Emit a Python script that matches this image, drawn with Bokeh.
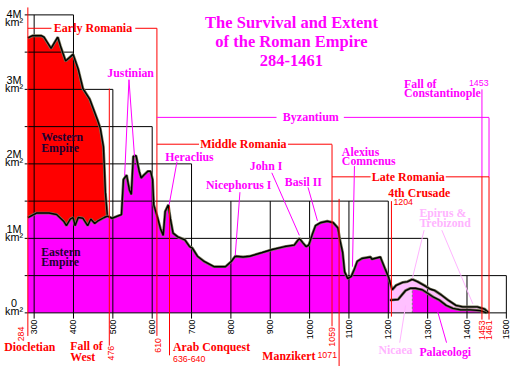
import math
from bokeh.plotting import figure
from bokeh.models import Range1d
from bokeh.core.properties import value
from bokeh.embed import file_html
from bokeh.resources import INLINE

# ---------------- data (years, million km²) ----------------
total_years = [284, 296, 318, 325, 343, 360, 367, 380, 399, 412, 424, 441, 461, 468, 476, 478, 481, 486]
total_vals = [3.69, 3.72, 3.72, 3.70, 3.55, 3.70, 3.58, 3.38, 3.47, 3.27, 3.01, 2.87, 2.59, 2.48, 2.23, 2.01, 1.62, 1.30]

east_years = [284, 306, 338, 357, 375, 382, 392, 399, 404, 412, 424, 436, 444, 454, 461, 478, 486, 498, 522,
              527, 535, 542, 547, 552, 559, 567, 572, 579, 589, 596, 601, 604, 614, 621, 628, 633, 641, 646,
              653, 665, 683, 695, 702, 715, 732, 757, 786, 801, 811, 831, 848, 880, 905, 937, 961, 974, 983,
              991, 998, 1008, 1015, 1028, 1045, 1060, 1072, 1077, 1084, 1089, 1097, 1106, 1114, 1121, 1133,
              1155, 1158, 1180, 1182, 1192, 1200, 1204]
east_vals = [1.28, 1.34, 1.34, 1.32, 1.23, 1.17, 1.26, 1.28, 1.17, 1.28, 1.27, 1.17, 1.26, 1.20, 1.23, 1.28, 1.30,
             1.27, 1.32, 1.79, 1.85, 1.65, 1.59, 2.10, 2.11, 1.90, 1.81, 1.85, 1.90, 1.90, 1.79, 1.45, 1.27,
             1.13, 1.04, 1.36, 1.45, 1.27, 1.07, 1.02, 0.98, 0.89, 0.87, 0.76, 0.69, 0.62, 0.62, 0.69, 0.76,
             0.75, 0.76, 0.81, 0.85, 0.89, 0.91, 1.00, 0.94, 0.89, 0.91, 1.07, 1.17, 1.21, 1.23, 1.21, 1.14,
             0.98, 0.81, 0.55, 0.46, 0.49, 0.59, 0.69, 0.73, 0.75, 0.72, 0.75, 0.72, 0.59, 0.49, 0.42]

outer_years = [1204, 1210, 1220, 1237, 1249, 1261, 1274, 1291, 1306, 1318, 1335, 1352, 1372, 1389, 1408, 1426, 1445, 1455]
outer_vals = [0.42, 0.31, 0.37, 0.41, 0.42, 0.45, 0.42, 0.37, 0.32, 0.30, 0.24, 0.17, 0.10, 0.08, 0.08, 0.08, 0.05, 0.0]

inner_years = [1204, 1225, 1244, 1256, 1261, 1269, 1286, 1298, 1315, 1330, 1347, 1364, 1384, 1408, 1433, 1450]
inner_vals = [0.17, 0.18, 0.30, 0.33, 0.33, 0.33, 0.31, 0.27, 0.21, 0.17, 0.10, 0.06, 0.04, 0.04, 0.03, 0.0]
palaeologi_start = 1261

# staircase grid
grid_levels = [0, 0.5, 1.0, 1.5, 2.0, 2.5, 3.0, 3.5, 4.0]
grid_ends = [1500, 1500, 1300, 1200, 700, 600, 500, 400, 400]
grid_start = 276
tick_years = [300, 400, 500, 600, 700, 800, 900, 1000, 1100, 1200, 1300, 1400, 1500]
tick_tops = [4.0, 4.0, 3.0, 2.5, 2.0, 1.5, 1.5, 1.5, 1.5, 1.5, 1.0, 0.5, 0.5]
tick_labels = [str(t) for t in tick_years]

ylab_values = [0, 1, 2, 3, 4]
ylab_texts = ["0", "1M", "2M", "3M", "4M"]
ylab_shift = [0, 0, 0, 0, -0.12]

# event lines: drawn position (year), top, bottom
red_x = [284, 491, 612, 644, 1057, 1075, 1208, 1438, 1456]
red_top = [4.10, 3.01, 3.82, 1.43, 2.26, 1.53, 1.50, 1.83, 1.83]
red_bot = [-0.31, -0.44, -0.31, -0.57, -0.18, -0.72, -0.05, -0.09, -0.09]
mag_x = [1438, 1456]
mag_top = [3.0, 2.62]
mag_bot = [1.83, 1.83]

# era brackets: level, segments
red_br_x0 = [284, 557, 612, 945, 1057, 1346]
red_br_x1 = [344, 612, 719, 1057, 1155, 1456]
red_br_y = [3.82, 3.82, 2.264, 2.264, 1.826, 1.826]
mag_br_x0 = [612, 1087]
mag_br_x1 = [916, 1456]
mag_br_y = [2.624, 2.624]

# pointers
mp_x0 = [541, 541, 663, 823, 904, 996, 1114, 1348]
mp_y0 = [3.13, 3.13, 2.03, 1.62, 1.88, 1.685, 1.97, -0.40]
mp_x1 = [530, 555, 643, 811, 974, 1020, 1109, 1321]
mp_y1 = [1.84, 2.10, 1.45, 0.77, 1.04, 1.235, 0.62, 0.10]
pp_x0 = [1291, 1336, 1229]
pp_y0 = [1.11, 1.11, -0.40]
pp_x1 = [1261, 1415, 1244]
pp_y1 = [0.46, 0.12, 0.10]

RED = "#FF0000"
MAG = "#FF00FF"
PINK = "#FFC0FF"
LPINK = "#FFB4FF"
DARK = "#200030"

SERIF = "Liberation Serif"
SANS = "Liberation Sans"

# labels: text, x(year), y(value), color, size, font, bold, align, angle
labels = [
    ("The Survival and Extent", 954, 3.897, MAG, 16.5, SERIF, True, "center", 0),
    ("of the Roman Empire", 954, 3.640, MAG, 16.5, SERIF, True, "center", 0),
    ("284-1461", 954, 3.383, MAG, 16.5, SERIF, True, "center", 0),
    ("Early Romania", 350, 3.820, RED, 12, SERIF, True, "left", 0),
    ("Byzantium", 932, 2.624, MAG, 12, SERIF, True, "left", 0),
    ("Middle Romania", 722, 2.264, RED, 12, SERIF, True, "left", 0),
    ("Late Romania", 1158, 1.826, RED, 12, SERIF, True, "left", 0),
    ("Justinian", 486, 3.215, MAG, 11.8, SERIF, True, "left", 0),
    ("Heraclius", 633, 2.096, MAG, 11.8, SERIF, True, "left", 0),
    ("Nicephorus I", 737, 1.711, MAG, 11.8, SERIF, True, "left", 0),
    ("John I", 848, 1.968, MAG, 11.8, SERIF, True, "left", 0),
    ("Basil II", 937, 1.762, MAG, 11.8, SERIF, True, "left", 0),
    ("Alexius", 1082, 2.161, MAG, 11.8, SERIF, True, "left", 0),
    ("Comnenus", 1082, 2.045, MAG, 11.8, SERIF, True, "left", 0),
    ("Fall of", 1240, 3.074, MAG, 11.8, SERIF, True, "left", 0),
    ("Constantinople", 1240, 2.945, MAG, 11.8, SERIF, True, "left", 0),
    ("1453", 1405, 3.087, MAG, 8.8, SANS, False, "left", 0),
    ("4th Crusade", 1200, 1.608, RED, 11.8, SERIF, True, "left", 0),
    ("1204", 1213, 1.492, RED, 8.8, SANS, False, "left", 0),
    ("Epirus &", 1279, 1.338, LPINK, 11.8, SERIF, True, "left", 0),
    ("Trebizond", 1279, 1.209, LPINK, 11.8, SERIF, True, "left", 0),
    ("Western", 318, 2.354, DARK, 11.8, SERIF, True, "left", 0),
    ("Empire", 318, 2.212, DARK, 11.8, SERIF, True, "left", 0),
    ("Eastern", 318, 0.823, DARK, 11.8, SERIF, True, "left", 0),
    ("Empire", 318, 0.682, DARK, 11.8, SERIF, True, "left", 0),
    ("Diocletian", 224, -0.463, RED, 11.8, SERIF, True, "left", 0),
    ("Fall of", 392, -0.450, RED, 11.8, SERIF, True, "left", 0),
    ("West", 392, -0.592, RED, 11.8, SERIF, True, "left", 0),
    ("Arab Conquest", 653, -0.463, RED, 11.8, SERIF, True, "left", 0),
    ("636-640", 653, -0.617, RED, 8.8, SANS, False, "left", 0),
    ("Manzikert", 880, -0.579, RED, 11.8, SERIF, True, "left", 0),
    ("1071", 1020, -0.566, RED, 8.8, SANS, False, "left", 0),
    ("Nicaea", 1175, -0.502, LPINK, 11.8, SERIF, True, "left", 0),
    ("Palaeologi", 1279, -0.527, MAG, 11.8, SERIF, True, "left", 0),
    ("284", 267, -0.283, RED, 8.8, SANS, False, "center", math.pi / 2),
    ("476", 495, -0.540, RED, 8.8, SANS, False, "center", math.pi / 2),
    ("610", 615, -0.437, RED, 8.8, SANS, False, "center", math.pi / 2),
    ("1059", 1056, -0.322, RED, 8.8, SANS, False, "center", math.pi / 2),
    ("1453", 1438, -0.232, RED, 8.8, SANS, False, "center", math.pi / 2),
    ("1461", 1455, -0.232, RED, 8.8, SANS, False, "center", math.pi / 2),
]

# ---------------- figure ----------------
p = figure(width=511, height=366, x_range=Range1d(214.5, 1513.1), y_range=Range1d(-0.720, 4.193),
           x_axis_type=None, y_axis_type=None, toolbar_location=None, output_backend="svg",
           min_border=0)
p.outline_line_color = None
p.background_fill_color = "white"
p.border_fill_color = "white"

# fills
p.patch([east_years[0]] + east_years + [east_years[-1]], [0] + east_vals + [0],
        fill_color=MAG, line_color=None)
west_x = total_years + [y for y in reversed(east_years) if y <= total_years[-1]]
west_y = total_vals + [v for y, v in zip(reversed(east_years), reversed(east_vals)) if y <= total_years[-1]]
p.patch(west_x, west_y, fill_color=RED, line_color=None)
p.patch(outer_years + [outer_years[-1], outer_years[0]], outer_vals + [0, 0], fill_color=PINK, line_color=None)
pal_x = [y for y in inner_years if y >= palaeologi_start]
pal_y = [v for y, v in zip(inner_years, inner_vals) if y >= palaeologi_start]
p.patch([pal_x[0]] + pal_x + [pal_x[-1]], [0] + pal_y + [0], fill_color=MAG, line_color=None)
p.segment(x0=[pal_x[0]], y0=[0], x1=[pal_x[0]], y1=[pal_y[0]], line_color="#808080",
          line_width=1, line_dash="2 2")

# staircase grid
p.segment(x0=[grid_start] * len(grid_levels), y0=grid_levels, x1=grid_ends, y1=grid_levels,
          line_color="black", line_width=1)
p.segment(x0=tick_years, y0=[-0.077] * len(tick_years), x1=tick_years, y1=tick_tops,
          line_color="black", line_width=1)

# outlines
byz_x = east_years + outer_years
byz_y = east_vals + outer_vals
for xs, ys in [(total_years, total_vals), (byz_x, byz_y), (inner_years, inner_vals)]:
    p.line(xs, ys, line_color="#77775a", line_width=2.8)
    p.line(xs, ys, line_color="black", line_width=1.4)

# event lines and brackets
p.segment(x0=red_x, y0=red_bot, x1=red_x, y1=red_top, line_color=RED, line_width=1)
p.segment(x0=mag_x, y0=mag_bot, x1=mag_x, y1=mag_top, line_color=MAG, line_width=1)
p.segment(x0=red_br_x0, y0=red_br_y, x1=red_br_x1, y1=red_br_y, line_color=RED, line_width=1)
p.segment(x0=mag_br_x0, y0=mag_br_y, x1=mag_br_x1, y1=mag_br_y, line_color=MAG, line_width=1)

# pointers
p.segment(x0=mp_x0, y0=mp_y0, x1=mp_x1, y1=mp_y1, line_color=MAG, line_width=1)
p.segment(x0=pp_x0, y0=pp_y0, x1=pp_x1, y1=pp_y1, line_color=LPINK, line_width=1)

# tick labels
p.text(x=tick_years, y=[-0.090] * len(tick_years), text=tick_labels, angle=math.pi / 2,
       text_align="right", text_baseline="middle", text_color="black",
       text_font=value(SANS), text_font_size="8.8px")

# y labels
ylab_x = 249
p.text(x=[ylab_x] * len(ylab_values), y=[v + s + 0.13 for v, s in zip(ylab_values, ylab_shift)],
       text=ylab_texts, text_align="center", text_baseline="middle", text_color="black",
       text_font=value(SANS), text_font_size="10.8px")
p.text(x=[ylab_x] * len(ylab_values), y=[v + s + 0.025 for v, s in zip(ylab_values, ylab_shift)],
       text=["km²"] * len(ylab_values), text_align="center", text_baseline="middle", text_color="black",
       text_font=value(SANS), text_font_size="10.8px")

for t, x, y, c, s, f, b, a, ang in labels:
    p.text(x=[x], y=[y], text=[t], text_color=c, text_font=value(f), text_font_size=f"{s}px",
           text_font_style="bold" if b else "normal", text_align=a, text_baseline="middle", angle=ang)

open("out.html", "w").write(file_html(p, INLINE))
